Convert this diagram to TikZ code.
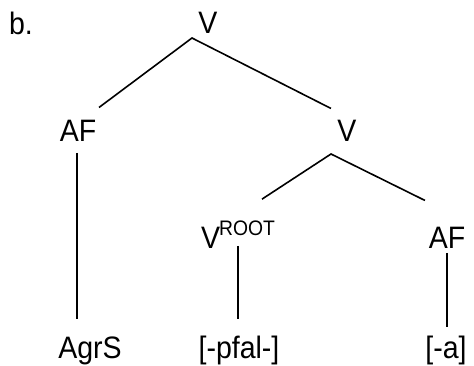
\documentclass[tikz,border=0pt]{standalone}
\usepackage{fontspec}
\setmainfont{Liberation Sans}
\usetikzlibrary{calc}

\begin{document}
\begin{tikzpicture}[x=1pt,y=-1pt,
    lab/.style={font=\fontsize{31}{36}\selectfont, inner sep=0pt, anchor=base, xscale=0.92},
    branch/.style={line width=1.6pt}]
  \useasboundingbox (0,0) rectangle (474,366);

  %%%%% LABELS %%%%%
  \node[lab] (b) at (21,35) {b.};
  \node[lab] (vtop) at (208,34) {V};

  \node[lab] (afl) at (78,142) {AF};
  \node[lab] (vr) at (347,142) {V};

  \node[lab] (vroot) at (238,248) {V\kern-1pt\raisebox{13pt}{\fontsize{21}{24}\selectfont ROOT}};
  \node[lab] (afr) at (447,249) {AF};

  \node[lab] (agrs) at (90,358) {AgrS};
  \node[lab] (pfal) at (239,358) {[-pfal-]};
  \node[lab] (a) at (446,358) {[-a]};

  %%%%% BRANCHES %%%%%
  \draw[branch] ($(afl.north)+(21,-13)$) -- ($(vtop.base)+(-16,4)$) -- ($(vr.north)+(-16,-12)$);
  \draw[branch] ($(vroot.north)+(24,-21)$) -- ($(vr.base)+(-16,12)$) -- ($(afr.north)+(-22,-27)$);

  \draw[branch] ($(afl.base)+(-1,11)$) -- ($(afl.base |- agrs.north)+(-1,-17)$);
  \draw[branch] ($(vroot.base)+(0,-2)$) -- ($(vroot.base |- pfal.north)+(0,-16)$);
  \draw[branch] ($(afr.base)+(0,4)$) -- ($(afr.base |- a.north)+(0,-8)$);
\end{tikzpicture}
\end{document}
